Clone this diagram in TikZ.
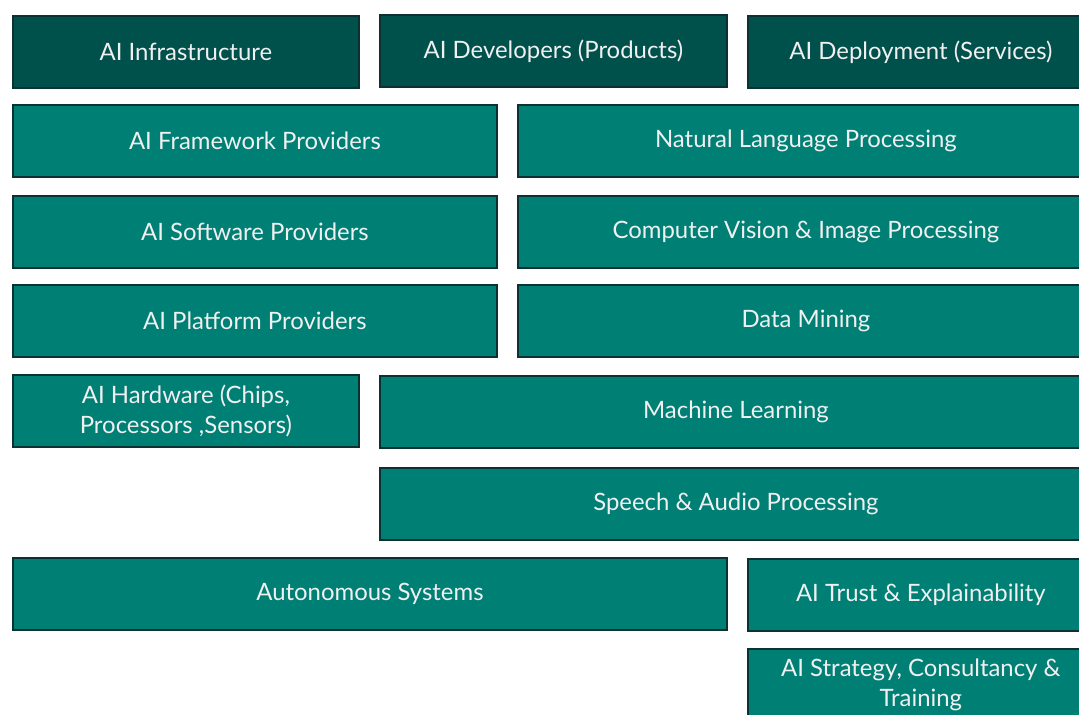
\documentclass[tikz,border=0pt]{standalone}
\usepackage{fontspec}
\setmainfont{Lato}
\definecolor{tealdark}{HTML}{00504C}
\definecolor{tealmain}{HTML}{007F75}
\definecolor{tealedge}{HTML}{0B3133}
\begin{document}
\begin{tikzpicture}[
  x=0.025cm, y=-0.025cm,
  tile/.style={draw=tealedge, line width=1.2pt, fill=tealmain, text=white!94!black,
    minimum height=1.8cm, anchor=north west, align=center,
    font=\fontsize{17}{21}\selectfont, inner sep=2pt},
  head/.style={tile, fill=tealdark},
]
  \useasboundingbox (0,0) rectangle (1079,715);
  \clip (0,0) rectangle (1079,715);

  % top row
  \node[head, minimum width=8.65cm] (infra) at (12,15) {AI Infrastructure};
  \node[head, minimum width=8.675cm] (dev) at (379,14) {AI Developers (Products)};
  \node[head, minimum width=8.65cm] (deploy) at (747,15) {AI Deployment (Services)};

  % providers and fields
  \node[tile, minimum width=12.1cm] (frame) at (12,104) {AI Framework Providers};
  \node[tile, minimum width=14.4cm] (nlp) at (517,104) {Natural Language Processing};
  \node[tile, minimum width=12.1cm] (soft) at (12,195) {AI Software Providers};
  \node[tile, minimum width=14.4cm] (vision) at (517,195) {Computer Vision \& Image Processing};
  \node[tile, minimum width=12.1cm] (platform) at (12,284) {AI Platform Providers};
  \node[tile, minimum width=14.4cm] (mining) at (517,284) {Data Mining};

  \node[tile, minimum width=8.65cm] (hardware) at (12,374) {AI Hardware (Chips,\\ Processors ,Sensors)};
  \node[tile, minimum width=17.8cm] (ml) at (379,375) {Machine Learning};
  \node[tile, minimum width=17.8cm] (speech) at (379,467) {Speech \& Audio Processing};

  \node[tile, minimum width=17.85cm] (auto) at (12,557) {Autonomous Systems};
  \node[tile, minimum width=8.65cm] (trust) at (747,558) {AI Trust \& Explainability};
  \node[tile, minimum width=8.65cm] (strategy) at (747,648) {AI Strategy, Consultancy \&\\ Training};
\end{tikzpicture}
\end{document}
